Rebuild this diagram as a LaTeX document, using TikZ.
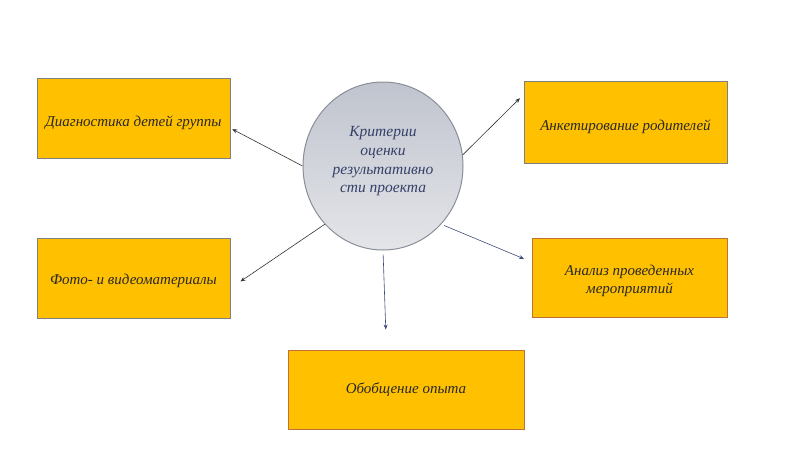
\documentclass[tikz,border=0pt]{standalone}
\usepackage{fontspec}
\setmainfont{Liberation Serif}
\usetikzlibrary{arrows.meta, shapes.geometric}

\definecolor{boxfill}{RGB}{255,192,0}
\definecolor{boxgray}{RGB}{128,128,128}
\definecolor{boxbrown}{RGB}{192,112,50}
\definecolor{critline}{RGB}{138,142,152}
\definecolor{crittext}{RGB}{52,64,104}
\definecolor{arrblue}{RGB}{62,76,122}
\definecolor{boxtext}{RGB}{40,40,40}

\newcommand{\critlines}[2][0pt]{\raisebox{#1}[\height][\depth]{\begin{tabular}{@{}c@{}}#2\end{tabular}}}

\tikzset{
  critellipse/.style={ellipse, draw=critline, line width=1pt, top color={rgb,255:red,192;green,196;blue,206}, bottom color={rgb,255:red,228;green,229;blue,233}, minimum width=160, minimum height=168, inner sep=0pt, text=crittext, font=\itshape\fontsize{15.5}{18.7}\selectfont},
  critbox/.style={draw=boxgray, line width=1pt, fill=boxfill, inner sep=0pt, text=boxtext, font=\itshape\fontsize{15}{18}\selectfont},
  critarrow/.style={-{Stealth[length=5pt, width=4pt]}, line width=0.6pt}
}

\begin{document}
\begin{tikzpicture}[x=1pt, y=1pt, yscale=-1]
\useasboundingbox (0,0) rectangle (800,450);
% центр
\node [critellipse] (crit) at (383,166) {\critlines[5pt]{Критерии\\оценки\\результативно\\сти проекта}};
% критерии
\node [critbox, minimum width=193, minimum height=80] (diag) at (133.5,118) {\critlines[-5pt]{Диагностика детей группы}};
\node [critbox, minimum width=203, minimum height=82] (ankt) at (625.5,122) {\critlines[-5pt]{Анкетирование родителей}};
\node [critbox, minimum width=193, minimum height=80] (foto) at (133.5,278) {\critlines[-3pt]{Фото- и видеоматериалы}};
\node [critbox, draw=boxbrown, minimum width=195, minimum height=79] (anal) at (629.5,277.5) {\critlines[-3pt]{Анализ проведенных\\мероприятий}};
\node [critbox, draw=boxbrown, minimum width=236, minimum height=79] (opyt) at (406,389.5) {\critlines{Обобщение опыта}};
% стрелки
\draw [critarrow, black!80] (crit.180) -- (diag.-6) [shorten >=2pt];
\draw [critarrow, black!80, shorten >=5pt] (crit.8) -- (ankt.165);
\draw [critarrow, black!80, shorten >=12pt] (crit.225) -- (foto.-6);
\draw [critarrow, arrblue, shorten <=3pt, shorten >=8pt] (crit.315) -- (anal.171);
\draw [critarrow, arrblue, shorten <=4pt, shorten >=20pt] (crit.270) -- (opyt.116);
\end{tikzpicture}
\end{document}
